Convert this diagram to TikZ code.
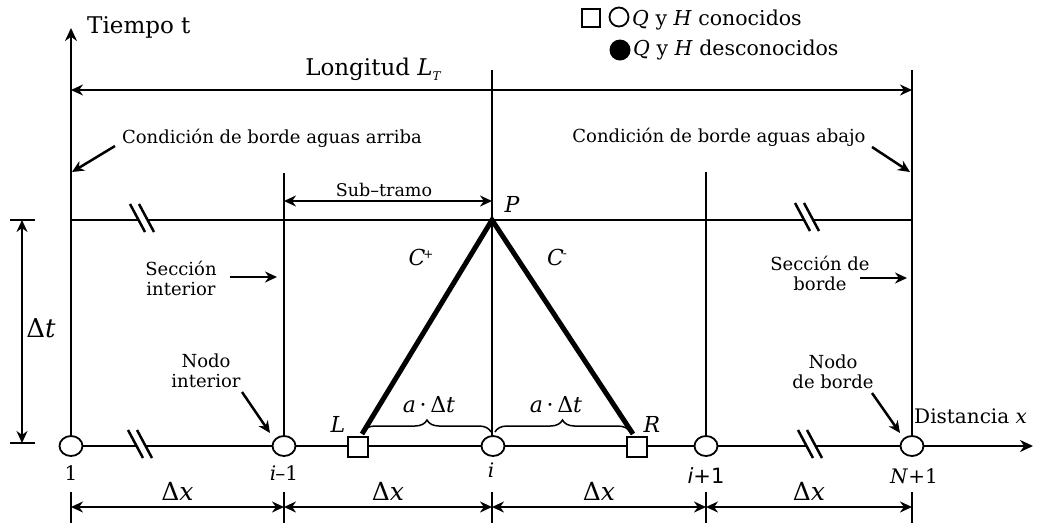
\RequirePackage{fix-cm}
\documentclass[tikz,border=0pt]{standalone}
\usepackage{fontspec}
\setmainfont{DejaVu Serif}
\newfontfamily\sansf{DejaVu Sans}
\usetikzlibrary{arrows.meta,decorations.pathreplacing,shapes.geometric}
\begin{document}
\begin{tikzpicture}[x=1pt,y=-1pt,
  thinln/.style={line width=1.8pt},
  thickln/.style={line width=5pt},
  arr/.style={line width=2.5pt,-{Stealth[length=12pt,width=11pt]}},
  darr/.style={line width=2.5pt,{Stealth[length=12pt,width=11pt]}-{Stealth[length=12pt,width=11pt]}},
  nodec/.style={draw,line width=1.8pt,fill=white,ellipse,minimum width=23pt,minimum height=20pt,inner sep=0pt},
  nodesq/.style={draw,line width=1.8pt,fill=white,rectangle,minimum size=20pt,inner sep=0pt},
  lbl/.style={font=\fontsize{18}{20}\selectfont,align=center,inner sep=0pt},
  big/.style={font=\fontsize{20}{22}\selectfont,inner sep=0pt},
  mathl/.style={font=\fontsize{22}{24}\selectfont\itshape,inner sep=0pt},
  brk/.style={line width=2.5pt}
]
\useasboundingbox (0,0) rectangle (1041,523);
% coordinates
\coordinate (axtop) at (71,28);
\coordinate (P) at (492,220);
\coordinate (Ptop) at (492,70);
\coordinate (Ntop) at (912,70);
\coordinate (im1top) at (284,173);
\coordinate (ip1top) at (706,172);
\coordinate (xend) at (1033,446);
\coordinate (Lend) at (71,90);
\coordinate (Rend) at (912,90);
\coordinate (topL) at (71,220);
\coordinate (topR) at (912,220);
% lines
\draw[thinln] (Ptop) -- (492,446);
\draw[thinln] (Ntop) -- (912,446);
\draw[thinln] (im1top) -- (284,446);
\draw[thinln] (ip1top) -- (706,446);
\draw[thinln] (topL) -- (topR);
\draw[line width=2.5pt,-{Stealth[length=13pt,width=12pt]}] (71,447) -- (axtop);
\draw[line width=2.5pt,-{Stealth[length=13pt,width=12pt]}] (71,446) -- (xend);
% breaks
\foreach \xx/\yy in {142/218,140/444,807/217,810/444}{
  \fill[white] (\xx-12,\yy-14) -- (\xx-3,\yy-14) -- (\xx+12,\yy+14) -- (\xx+3,\yy+14) -- cycle;
  \draw[brk] (\xx-12,\yy-14) -- (\xx+3,\yy+14);
  \draw[brk] (\xx-3,\yy-14) -- (\xx+12,\yy+14);
}
% characteristics
\draw[thickln,line join=miter] (362,434) -- (P) -- (633,434);
% nodes
\node[nodec] (n1) at (71,446) {};
\node[nodec] (nim1) at (284,446) {};
\node[nodec] (ni) at (493,446) {};
\node[nodec] (nip1) at (706,446) {};
\node[nodec] (nN) at (912,446) {};
\node[nodesq] (L) at (358,447) {};
\node[nodesq] (R) at (637,447) {};
% node labels
\node[big,anchor=base] (t1) at (71,480) {1};
\node[big,anchor=base] (tim1) at (284,480) {\textit{i}\kern-1pt–1};
\node[big,anchor=base] (ti) at (491,477) {\textit{i}};
\node[anchor=base,inner sep=0pt] (tip1) at (706,483) {\sansf\fontsize{21}{23}\selectfont\itshape i\upshape+1};
\node[big,anchor=base] (tN) at (914,483) {\textit{N}+1};
% L R P
\node[mathl,anchor=base] (tL) at (338,432) {L};
\node[mathl,anchor=base] (tR) at (652,432) {R};
\node[mathl,anchor=base] (tP) at (512,212) {P};
\node[mathl,anchor=base] (tCp) at (421,265) {C\kern-2pt\raisebox{7pt}{\fontsize{12}{12}\selectfont\upshape+}};
\node[mathl,anchor=base] (tCm) at (557,265) {C\kern-1pt\raisebox{8pt}{\fontsize{12}{12}\selectfont\upshape -}};
% braces
\draw[line width=1.5pt,decorate,decoration={brace,amplitude=12pt}] (363,432) -- (491,432);
\draw[line width=1.5pt,decorate,decoration={brace,amplitude=12pt}] (495,432) -- (630,432);
\node[font=\fontsize{22}{24}\selectfont,inner sep=0pt,anchor=base] (ab1) at (429,412) {\textit{a}\,·\,Δ\textit{t}};
\node[font=\fontsize{22}{24}\selectfont,inner sep=0pt,anchor=base] (ab2) at (556,412) {\textit{a}\,·\,Δ\textit{t}};
% Longitud
\draw[darr] (Lend) -- (Rend);
\node[font=\fontsize{23}{25}\selectfont,inner sep=0pt,anchor=base] (tlong) at (373,75) {Longitud \textit{L}\raisebox{-5pt}{\fontsize{12}{12}\selectfont\itshape T}};
\node[font=\fontsize{23}{25}\selectfont,inner sep=0pt,anchor=base west] (ttime) at (87,33) {Tiempo t};
% sub-tramo
\coordinate (sa) at (284,201);
\coordinate (sb) at (492,201);
\draw[darr] (sa) -- (sb);
\node[font=\fontsize{17.5}{19}\selectfont,inner sep=0pt,anchor=base] (tsub) at (384,196) {Sub–tramo};
% condiciones
\node[lbl,anchor=base] (cba) at (272,143) {Condición de borde aguas arriba};
\coordinate (cbaT) at (72,172);
\draw[arr] (115,146) -- (cbaT);
\node[lbl,anchor=base] (cba2) at (719,142) {Condición de borde aguas abajo};
\coordinate (cbbT) at (910,172);
\draw[arr] (872,147) -- (cbbT);
% seccion interior
\node[lbl,anchor=base] (sint) at (181,295) {Sección\\interior};
\coordinate (sintT) at (277,277);
\draw[arr] (230,277) -- (sintT);
\node[lbl,anchor=base] (nint) at (206,387) {Nodo\\interior};
\coordinate (nintT) at (270,433);
\draw[arr] (242,392) -- (nintT);
\node[lbl,anchor=base] (sbor) at (820,290) {Sección de\\borde};
\coordinate (sborT) at (907,278);
\draw[arr] (860,278) -- (sborT);
\node[lbl,anchor=base] (nbor) at (833,388) {Nodo\\de borde};
\coordinate (nborT) at (900,433);
\draw[arr] (872,393) -- (nborT);
\node[big,anchor=base west] (tdist) at (914,423) {Distancia \textit{x}};
% delta t
\draw[thinln] (10,220) -- (35,220);
\draw[thinln] (10,443) -- (35,443);
\coordinate (dta) at (22,220);
\coordinate (dtb) at (22,443);
\draw[darr] (dta) -- (dtb);
\node[font=\fontsize{26}{28}\selectfont,inner sep=0pt,anchor=base] (tdt) at (41,337) {Δ\textit{t}};
% delta x
\foreach \xx in {71,284,492,706,912}{\draw[thinln] (\xx,492) -- (\xx,523);}
\foreach \xa/\xb/\nm in {71/284/a,284/492/b,492/706/c,706/912/d}{
  \coordinate (dx\nm a) at (\xa,507);
  \coordinate (dx\nm b) at (\xb,507);
  \draw[darr] (dx\nm a) -- (dx\nm b);
  \node[font=\fontsize{25}{27}\selectfont,inner sep=0pt,anchor=base] (tdx\nm) at ({(\xa+\xb)/2},500) {Δ\textit{x}};
}
% legend
\node[draw,line width=1.8pt,minimum size=18pt,inner sep=0pt] (lsq) at (591,18) {};
\node[draw,line width=1.8pt,circle,minimum size=19pt,inner sep=0pt] (lc1) at (619,17) {};
\node[font=\fontsize{20.5}{22}\selectfont,inner sep=0pt,anchor=base west] (lt1) at (632,25) {\textit{Q} y \textit{H} conocidos};
\node[fill,circle,minimum size=21pt,inner sep=0pt] (lc2) at (620,50) {};
\node[font=\fontsize{20.5}{22}\selectfont,inner sep=0pt,anchor=base west] (lt2) at (633,55) {\textit{Q} y \textit{H} desconocidos};
\end{tikzpicture}
\end{document}
